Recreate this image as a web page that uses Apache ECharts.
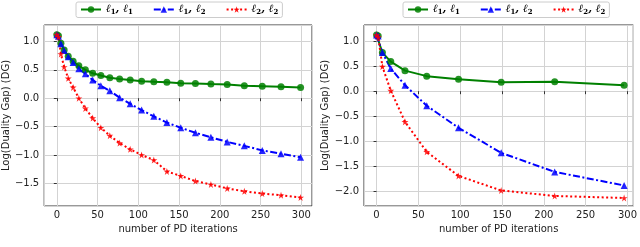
<!DOCTYPE html>
<html><head><meta charset="utf-8">
<script src="https://cdn.jsdelivr.net/npm/echarts@6/dist/echarts.min.js"></script>
<style>html,body{margin:0;padding:0;background:#fff}#c{width:640px;height:247px}</style>
</head><body><div id="c"></div>
<script>
// Left panel
const xLeft = [0, 2, 5, 9, 14, 20, 27, 35, 44, 54, 65, 77, 90, 104, 119, 135, 152, 170, 189, 209, 230, 252, 275, 299];
const l1l1Left = [1.12, 1.10, 0.97, 0.85, 0.74, 0.65, 0.57, 0.50, 0.44, 0.40, 0.36, 0.34, 0.32, 0.30, 0.29, 0.28, 0.265, 0.26, 0.25, 0.24, 0.22, 0.21, 0.20, 0.19];
const l1l2Left = [1.12, 1.09, 0.96, 0.84, 0.73, 0.63, 0.52, 0.43, 0.32, 0.22, 0.13, 0.01, -0.10, -0.21, -0.32, -0.43, -0.52, -0.61, -0.69, -0.77, -0.84, -0.92, -0.98, -1.04];
const l2l2Left = [1.12, 1.08, 0.78, 0.55, 0.35, 0.19, 0.0, -0.18, -0.35, -0.52, -0.66, -0.79, -0.90, -1.0, -1.09, -1.29, -1.37, -1.46, -1.52, -1.59, -1.64, -1.68, -1.71, -1.75];
// Right panel
const xRight = [0, 2, 7, 17, 34, 60, 98, 149, 213, 296];
const l1l1Right = [1.12, 1.10, 0.77, 0.59, 0.41, 0.30, 0.24, 0.18, 0.19, 0.12];
const l1l2Right = [1.12, 1.10, 0.77, 0.45, 0.12, -0.29, -0.73, -1.23, -1.61, -1.88];
const l2l2Right = [1.12, 1.08, 0.49, 0.01, -0.61, -1.21, -1.69, -1.98, -2.09, -2.13];

const seriesNames = ['l1l1', 'l1l2', 'l2l2'];
const xAxisName = 'number of PD iterations';
const yAxisName = 'Log(Duality Gap) (DG)';

const STAR = 'path://M50,0 L61,35 L98,35 L68,57 L79,91 L50,70 L21,91 L32,57 L2,35 L39,35 Z';
const styles = {
  l1l1: {color: '#008000', type: 'solid', symbol: 'circle', size: 7},
  l1l2: {color: '#0000ff', type: [7, 2.5, 2, 2.5], symbol: 'triangle', size: 7},
  l2l2: {color: '#ff0000', type: [2, 2.5], symbol: STAR, size: 7}
};
const legendText = {
  l1l1: '{i|ℓ}{s|1}{i|, ℓ}{s|1}',
  l1l2: '{i|ℓ}{s|1}{i|, ℓ}{s|2}',
  l2l2: '{i|ℓ}{s|2}{i|, ℓ}{s|2}'
};
const FONT = 'DejaVu Sans';
const fmt = v => (Math.round(v * 10) / 10).toFixed(1).replace('-', '\u2212');
const fmtX = v => String(Math.round(v)).replace('-', '\u2212');

function pair(xs, ys) { return xs.map((x, i) => [x, ys[i]]); }

function mkLegend(left) {
  return {
    left: left, top: 2, orient: 'horizontal', itemGap: 20, itemWidth: 20, itemHeight: 8,
    borderColor: '#cccccc', borderWidth: 1, borderRadius: 2, padding: [2, 4, 2, 4],
    data: seriesNames,
    formatter: n => legendText[n],
    textStyle: {
      rich: {
        i: {fontFamily: 'DejaVu Serif', fontStyle: 'italic', fontWeight: 'bold', fontSize: 11, color: '#000'},
        s: {fontFamily: 'DejaVu Serif', fontWeight: 'bold', fontSize: 7, color: '#000', padding: [5, 0, 0, 0]}
      }
    }
  };
}

function mkX(idx, min, max) {
  return {
    type: 'value', gridIndex: idx, min: min, max: max,
    name: xAxisName, nameLocation: 'middle', nameGap: 16,
    nameTextStyle: {fontFamily: FONT, fontSize: 10, color: '#222'},
    axisLine: {show: false}, axisTick: {show: true, length: 3, lineStyle: {color: '#333'}},
    axisLabel: {fontFamily: FONT, fontSize: 10, color: '#222', margin: 4, formatter: fmtX, showMinLabel: false, showMaxLabel: false},
    splitLine: {show: true, lineStyle: {color: '#d3d3d3', width: 1}}
  };
}
function mkY(idx, min, max, split, gap) {
  return {
    type: 'value', gridIndex: idx, min: min, max: max, splitNumber: split,
    name: yAxisName, nameLocation: 'middle', nameGap: gap, nameRotate: 90,
    nameTextStyle: {fontFamily: FONT, fontSize: 10, color: '#222'},
    axisLine: {show: false}, axisTick: {show: true, length: 3, lineStyle: {color: '#333'}},
    axisLabel: {fontFamily: FONT, fontSize: 10, color: '#222', margin: 5, formatter: fmt, showMinLabel: false, showMaxLabel: false},
    splitLine: {show: true, lineStyle: {color: '#d3d3d3', width: 1}}
  };
}
function mkSeries(name, xi, data) {
  const s = styles[name];
  return {
    name: name, type: 'line', xAxisIndex: xi, yAxisIndex: xi, data: data,
    symbol: s.symbol, symbolSize: s.size, showSymbol: true,
    lineStyle: {color: s.color, width: 2, type: s.type},
    itemStyle: {color: s.color, opacity: 0.85},
    animation: false
  };
}

const chart = echarts.init(document.getElementById('c'));
chart.setOption({
  animation: false,
  legend: [mkLegend(76), mkLegend(403)],
  grid: [
    {left: 37, right: 328, top: 25, bottom: 41, show: true, borderColor: '#333', borderWidth: 1, containLabel: false},
    {left: 364, right: 6, top: 25, bottom: 41, show: true, borderColor: '#333', borderWidth: 1, containLabel: false}
  ],
  xAxis: [mkX(0, -15.5, 313), mkX(1, -15, 307)],
  yAxis: [mkY(0, -1.90, 1.29, 5, 25), mkY(1, -2.29, 1.32, 7, 27)],
  series: [
    mkSeries('l1l1', 0, pair(xLeft, l1l1Left)),
    mkSeries('l1l2', 0, pair(xLeft, l1l2Left)),
    mkSeries('l2l2', 0, pair(xLeft, l2l2Left)),
    mkSeries('l1l1', 1, pair(xRight, l1l1Right)),
    mkSeries('l1l2', 1, pair(xRight, l1l2Right)),
    mkSeries('l2l2', 1, pair(xRight, l2l2Right))
  ]
});
</script></body></html>
